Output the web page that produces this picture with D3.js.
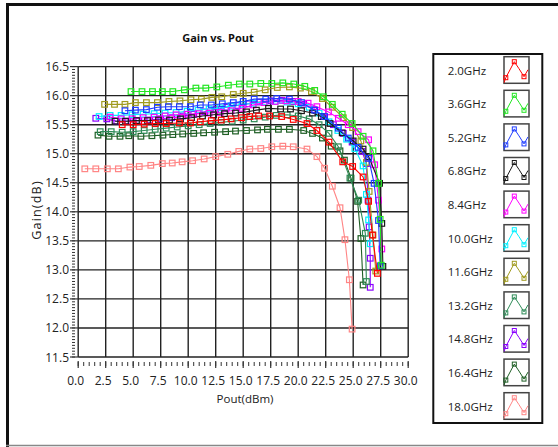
<!DOCTYPE html>
<html><head><meta charset="utf-8">
<script src="https://cdn.jsdelivr.net/npm/d3@7"></script>
<style>
body{margin:0;background:#fff}
svg{display:block}
text{font-family:"Open Sans","Liberation Sans",Arial,sans-serif;fill:#222}
</style>
</head><body>
<svg id="c" width="558" height="447"></svg>
<script>
// ---------- data ----------
const categories = ["2.0GHz","3.6GHz","5.2GHz","6.8GHz","8.4GHz","10.0GHz","11.6GHz","13.2GHz","14.8GHz","16.4GHz","18.0GHz"];
const xTickValues = [0,2.5,5,7.5,10,12.5,15,17.5,20,22.5,25,27.5,30];
const yTickValues = [11.5,12,12.5,13,13.5,14,14.5,15,15.5,16,16.5];

// [Pout (dBm), Gain (dB)]
const s2_0 = [[4,15.5],[5,15.5],[6,15.51],[7,15.52],[8,15.52],[9.2,15.53],[10.2,15.53],[11.1,15.55],[12.1,15.57],[13,15.58],[13.9,15.6],[14.85,15.62],[15.6,15.64],[16.4,15.65],[17.4,15.65],[18.5,15.64],[19.55,15.59],[20.8,15.52],[21.7,15.4],[22.8,15.2],[24.05,14.86],[24.95,14.78],[25.9,14.6],[26.4,14.18],[26.75,13.6],[27.2,12.94]];
const s3_6 = [[4.8,16.07],[5.8,16.07],[6.75,16.07],[7.65,16.07],[8.6,16.07],[9.65,16.1],[10.7,16.13],[11.6,16.13],[12.6,16.15],[13.65,16.18],[14.65,16.2],[15.6,16.2],[16.6,16.21],[17.6,16.21],[18.6,16.22],[19.6,16.2],[20.6,16.16],[21.5,16.09],[22.3,15.98],[23.1,15.85],[24.0,15.68],[24.9,15.52],[25.9,15.3],[26.8,15.05],[27.3,14.49],[27.45,13.87],[27.55,13.08]];
const s5_2 = [[4.25,15.74],[5.2,15.75],[6.2,15.76],[7.2,15.8],[8.2,15.81],[9.2,15.81],[10.2,15.81],[11.1,15.84],[12.1,15.84],[13.1,15.86],[14.1,15.88],[15,15.9],[16,15.94],[17.05,15.94],[18.05,15.95],[19.2,15.94],[20.3,15.88],[21.5,15.75],[22.4,15.64],[23.65,15.44],[24.55,15.27],[25.45,15.11],[26.4,14.92],[26.9,14.49],[27.3,13.85],[27.45,13.07]];
const s6_8 = [[3.35,15.56],[4.3,15.56],[5.3,15.57],[6.3,15.57],[7.3,15.58],[8.3,15.58],[9.3,15.6],[10.3,15.62],[11.3,15.65],[12.3,15.67],[13.3,15.69],[14.3,15.7],[15.3,15.72],[16.2,15.75],[17.3,15.78],[18.4,15.77],[19.3,15.77],[20.3,15.74],[21.3,15.7],[22.1,15.64],[22.9,15.52],[24,15.36],[25,15.22],[25.9,15.08],[26.4,14.95],[27.4,14.49],[27.6,13.8],[27.7,13.06]];
const s8_4 = [[2.9,15.63],[3.9,15.6],[4.9,15.6],[5.9,15.62],[6.9,15.63],[7.9,15.65],[8.9,15.67],[9.9,15.68],[10.9,15.69],[11.9,15.7],[12.9,15.71],[13.9,15.74],[14.9,15.78],[15.9,15.84],[16.9,15.88],[17.9,15.9],[18.9,15.91],[20,15.9],[20.9,15.87],[21.7,15.81],[22.75,15.72],[23.65,15.61],[24.55,15.5],[25.45,15.38],[26.4,15.24],[26.95,14.81],[27.3,14.2],[27.6,13.36]];
const s10_0 = [[1.9,15.64],[2.9,15.66],[3.9,15.66],[4.9,15.67],[5.9,15.68],[6.9,15.69],[7.9,15.7],[8.9,15.71],[9.9,15.73],[10.9,15.75],[11.9,15.77],[12.9,15.79],[13.9,15.82],[14.9,15.85],[15.9,15.87],[16.9,15.89],[17.9,15.9],[19,15.89],[20,15.86],[21,15.8],[21.9,15.7],[22.8,15.55],[23.6,15.4],[24.4,15.25],[25.15,15.09],[25.9,14.79],[26.2,14.3],[26.4,13.86],[26.55,13.45]];
const s11_6 = [[2.4,15.85],[3.3,15.85],[4.25,15.85],[5.2,15.88],[6.2,15.88],[7.2,15.88],[8.25,15.9],[9.25,15.91],[10.25,15.93],[11.2,15.94],[12.15,15.97],[13.05,15.98],[14.1,16.02],[15,16.04],[16,16.06],[17,16.1],[18.1,16.14],[19.2,16.15],[20.2,16.13],[21.2,16.07],[22.2,15.95],[23.1,15.8],[24.1,15.62],[24.95,15.45],[25.7,15.22],[26.2,14.85],[26.45,14.35],[26.8,13.6],[27.05,12.98]];
const s13_2 = [[2,15.38],[3,15.38],[4,15.37],[5,15.38],[6,15.4],[7,15.42],[8,15.44],[9,15.46],[10,15.48],[11,15.5],[12,15.52],[13,15.54],[14,15.56],[15,15.58],[16,15.6],[17,15.63],[18,15.66],[19,15.67],[20,15.65],[21,15.6],[21.9,15.5],[22.8,15.35],[23.65,15.12],[24.7,14.58],[25.5,14.2],[26.1,13.63],[26.2,12.8]];
const s14_8 = [[1.6,15.61],[2.6,15.6],[3.5,15.56],[4.5,15.56],[5.5,15.57],[6.5,15.58],[7.5,15.6],[8.5,15.62],[9.5,15.65],[10.5,15.68],[11.5,15.72],[12.5,15.76],[13.5,15.8],[14.5,15.83],[15.5,15.86],[16.5,15.89],[17.5,15.91],[18.5,15.92],[19.5,15.9],[20.5,15.85],[21.4,15.76],[22.3,15.64],[23.2,15.5],[24.1,15.35],[24.9,15.2],[25.8,15.04],[26.2,14.83],[26.35,14.2],[26.45,13.74],[26.55,13.2],[26.55,12.7]];
const s16_4 = [[1.8,15.32],[2.8,15.3],[3.8,15.3],[4.6,15.31],[5.7,15.3],[6.7,15.31],[7.7,15.32],[8.6,15.33],[9.5,15.34],[10.5,15.35],[11.4,15.36],[12.4,15.37],[13.4,15.38],[14.3,15.39],[15.3,15.4],[16.3,15.41],[17.2,15.42],[18.2,15.42],[19.2,15.42],[20.5,15.4],[21.3,15.35],[22.2,15.27],[23,15.13],[23.8,15.05],[24.2,14.89],[24.8,14.58],[25.4,14.18],[25.7,13.54],[25.9,12.74]];
const s18_0 = [[0.6,14.74],[1.6,14.74],[2.65,14.74],[3.65,14.74],[4.7,14.77],[5.55,14.78],[6.6,14.8],[7.65,14.83],[8.55,14.84],[9.45,14.86],[10.4,14.88],[11.45,14.91],[12.5,14.95],[13.6,14.99],[14.6,15.04],[15.6,15.08],[16.6,15.09],[17.6,15.12],[18.6,15.13],[19.55,15.12],[20.8,15.08],[21.7,14.95],[22.4,14.75],[23.1,14.44],[23.8,14.07],[24.25,13.52],[24.65,12.83],[24.9,11.98]];

const seriesData = [s2_0,s3_6,s5_2,s6_8,s8_4,s10_0,s11_6,s13_2,s14_8,s16_4,s18_0];
const colors = ["#ff0000","#22e622","#1f3cff","#1a1a1a","#ff00ff","#00f0ff","#a09a1e","#2e8b57","#8a00ff","#1f5f25","#ff8585"];

// ---------- drawing ----------
const svg = d3.select("#c");
const x = d3.scaleLinear().domain([0,30]).range([78.2,408.2]);
const y = d3.scaleLinear().domain([11.5,16.5]).range([357,66.6]);

// outer frame
svg.append("line").attr("x1",6).attr("x2",558).attr("y1",4.5).attr("y2",4.5).attr("stroke","#111").attr("stroke-width",3);
svg.append("line").attr("x1",7.5).attr("x2",7.5).attr("y1",3).attr("y2",447).attr("stroke","#111").attr("stroke-width",3);
svg.append("line").attr("x1",6).attr("x2",558).attr("y1",445.5).attr("y2",445.5).attr("stroke","#888").attr("stroke-width",1.5);

// title
svg.append("text").attr("x",218).attr("y",42).attr("text-anchor","middle")
  .style("font-weight","bold").style("font-size","11px").style("fill","#111").text("Gain vs. Pout");

// grid
const g = svg.append("g");
g.selectAll(".vg").data(xTickValues).join("line")
  .attr("x1",d=>x(d)).attr("x2",d=>x(d)).attr("y1",y(16.5)).attr("y2",y(11.5))
  .attr("stroke","#222").attr("stroke-width",1.4);
g.selectAll(".hg").data(yTickValues).join("line")
  .attr("x1",x(0)).attr("x2",x(30)).attr("y1",d=>y(d)).attr("y2",d=>y(d))
  .attr("stroke","#222").attr("stroke-width",1.4);

// y axis
const yMinor = d3.range(0,101).map(i=>11.5+i*0.05);
svg.append("g").selectAll("line").data(yMinor).join("line")
  .attr("x1",72).attr("x2",75).attr("y1",d=>y(d)).attr("y2",d=>y(d))
  .attr("stroke","#333").attr("stroke-width",1);
svg.append("g").selectAll("line").data(yTickValues).join("line")
  .attr("x1",70).attr("x2",x(0)).attr("y1",d=>y(d)).attr("y2",d=>y(d))
  .attr("stroke","#333").attr("stroke-width",1.2);
svg.append("g").selectAll("text").data(yTickValues).join("text")
  .attr("x",69).attr("y",d=>y(d)+4.5).attr("text-anchor","end").style("font-size","12px")
  .text(d=>d.toFixed(1));
svg.append("text").attr("transform","translate(41,210) rotate(-90)").attr("text-anchor","middle")
  .style("font-size","12.5px").style("letter-spacing","1.2px").text("Gain(dB)");

// x axis
const xMinor = d3.range(0,61).map(i=>i*0.5);
svg.append("g").selectAll("line").data(xMinor).join("line")
  .attr("x1",d=>x(d)).attr("x2",d=>x(d)).attr("y1",362).attr("y2",366)
  .attr("stroke","#333").attr("stroke-width",1);
svg.append("g").selectAll("line").data(xTickValues).join("line")
  .attr("x1",d=>x(d)).attr("x2",d=>x(d)).attr("y1",361).attr("y2",368)
  .attr("stroke","#333").attr("stroke-width",1.2);
svg.append("g").selectAll("text").data(xTickValues).join("text")
  .attr("x",d=>x(d)-2.5).attr("y",384.5).attr("text-anchor","middle").style("font-size","12px")
  .text(d=>d.toFixed(1));
svg.append("text").attr("x",245).attr("y",402.5).attr("text-anchor","middle").style("font-size","11.5px").text("Pout(dBm)");

// series
const line = d3.line().x(d=>x(d[0])).y(d=>y(d[1]));
const order = d3.range(seriesData.length).reverse();
const sg = svg.append("g");
order.forEach(i=>{
  const grp = sg.append("g");
  grp.append("path").datum(seriesData[i]).attr("d",line).attr("fill","none")
    .attr("stroke",colors[i]).attr("stroke-width",1.1);
  grp.selectAll("rect").data(seriesData[i]).join("rect")
    .attr("x",d=>x(d[0])-2.8).attr("y",d=>y(d[1])-2.8).attr("width",5.6).attr("height",5.6)
    .attr("fill","none").attr("stroke",colors[i]).attr("stroke-width",1.2);
});

// legend
const lg = svg.append("g");
lg.append("rect").attr("x",433.3).attr("y",54).attr("width",109).attr("height",369)
  .attr("fill","#fff").attr("stroke","#111").attr("stroke-width",2);
const rowY = d3.scaleLinear().domain([0,10]).range([70,406]);
const iconPts = [[0,26],[1.8,21],[10.3,5],[15,12],[20,20],[24,13]];
const iconMarks = [[1.8,21],[10.3,5],[20,20]];
categories.forEach((c,i)=>{
  const cy = rowY(i);
  lg.append("text").attr("x",447.7).attr("y",cy+4.5).style("font-size","11.5px").text(c);
  const ig = lg.append("g").attr("transform",`translate(504,${cy-13.3})`);
  ig.append("rect").attr("x",0).attr("y",0).attr("width",25).attr("height",26.6)
    .attr("fill","#fff").attr("stroke","#444").attr("stroke-width",1.5);
  ig.append("path").attr("d",d3.line()(iconPts)).attr("fill","none").attr("stroke",colors[i]).attr("stroke-width",1);
  ig.selectAll("rect.m").data(iconMarks).join("rect").attr("class","m")
    .attr("x",d=>d[0]-2).attr("y",d=>d[1]-2).attr("width",4).attr("height",4)
    .attr("fill","none").attr("stroke",colors[i]).attr("stroke-width",1);
});
</script>
</body></html>
